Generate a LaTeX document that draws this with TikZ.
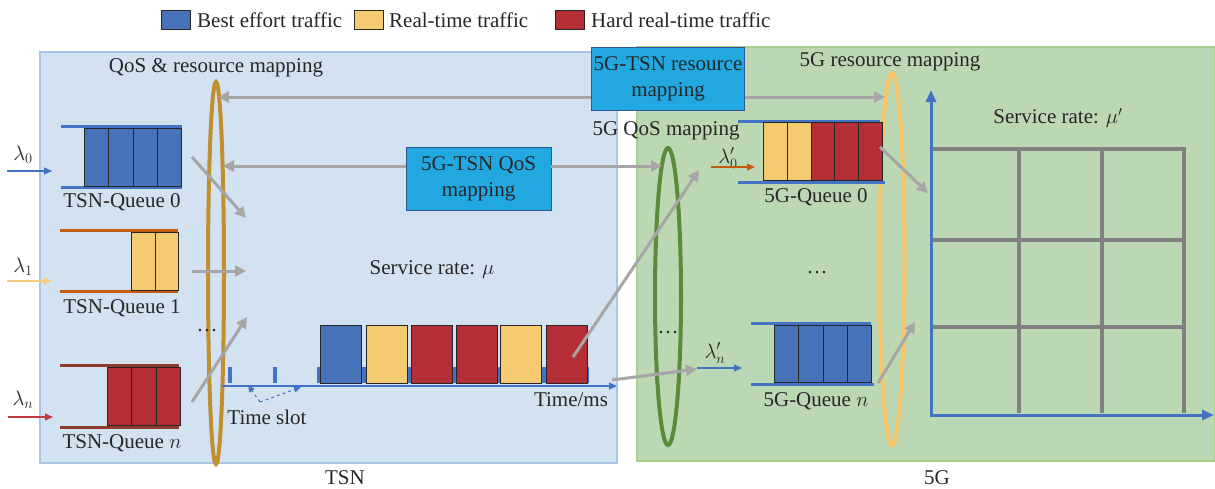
\documentclass[tikz,border=0pt]{standalone}
\usepackage{fontspec}
\setmainfont{Liberation Serif}
\usetikzlibrary{arrows.meta,shapes.geometric}

\definecolor{tsnbg}{HTML}{D3E2F1}
\definecolor{tsnedge}{HTML}{A9C4E4}
\definecolor{fgbg}{HTML}{BBD7B3}
\definecolor{fgedge}{HTML}{A9D18E}
\definecolor{mapbox}{HTML}{22A8E0}
\definecolor{mapedge}{HTML}{2E5597}
\definecolor{beblue}{HTML}{4673B8}
\definecolor{rtyellow}{HTML}{F5CB72}
\definecolor{hrtred}{HTML}{B32E35}
\definecolor{arrowgray}{HTML}{A6A6A6}
\definecolor{gridgray}{HTML}{808080}
\definecolor{gold}{HTML}{C0902F}
\definecolor{qosgreen}{HTML}{5A8A3A}
\definecolor{resyellow}{HTML}{F7C66A}
\definecolor{qorange}{HTML}{C55A11}
\definecolor{qbrown}{HTML}{8E3B2A}
\definecolor{axisblue}{HTML}{4472C4}
\definecolor{lamred}{HTML}{C0393F}
\definecolor{lamyellow}{HTML}{F8CB7F}
\definecolor{ink}{HTML}{262626}

\begin{document}
\begin{tikzpicture}[x=1pt,y=-1pt,
  font=\fontsize{21}{26}\selectfont, text=ink,
  blk/.style={draw=black!85, line width=1pt, inner sep=0pt, anchor=north west},
  be/.style={blk, fill=beblue},
  rt/.style={blk, fill=rtyellow},
  hrt/.style={blk, fill=hrtred},
  mapnode/.style={draw=mapedge, line width=0.8pt, fill=mapbox, align=center,
    minimum height=63pt, inner sep=2pt},
  gar/.style={draw=arrowgray, line width=3pt, -{Triangle[length=11pt,width=11pt]}},
  thinarr/.style={line width=1.2pt, -{Triangle[length=8pt,width=7pt]}},
  qline/.style={line width=3pt},
  loop/.style={ellipse, draw, line width=4pt, inner sep=0pt},
  gridline/.style={draw=gridgray, line width=4pt},
  axis/.style={draw=axisblue, line width=3pt, -{Triangle[length=12pt,width=10pt]}},
  lbl/.style={inner sep=0pt}
]
\useasboundingbox (0,0) rectangle (1215,488);

% legend
\node[be, minimum width=29pt, minimum height=19pt] (legbe) at (161,10) {};
\node[lbl, anchor=west] (legbet) at (197,20) {Best effort traffic};
\node[rt, minimum width=29pt, minimum height=19pt] (legrt) at (354,10) {};
\node[lbl, anchor=west] (legrtt) at (389,20) {Real-time traffic};
\node[hrt, minimum width=29pt, minimum height=19pt] (leghrt) at (555,10) {};
\node[lbl, anchor=west] (leghrtt) at (591,20) {Hard real-time traffic};

% the two domains
\fill[tsnbg, draw=tsnedge, line width=1.5pt] (40,52) rectangle (617,463);
\fill[fgbg, draw=fgedge, line width=1.5pt] (637,47) rectangle (1215,461);
\node[lbl] (tsnlabel) at (345,478) {TSN};
\node[lbl] (fglabel) at (937,478) {5G};

% mapping boxes
\node[mapnode, minimum width=142pt] (resbox) at (668,78.5) {5G-TSN resource\\mapping};
\node[mapnode, minimum width=145pt] (qosbox) at (478.5,178.5) {5G-TSN QoS\\mapping};

% mapping loops
\node[loop, draw=gold, minimum width=16pt, minimum height=382pt] (tsnmap) at (216,273) {};
\node[loop, draw=qosgreen, minimum width=26pt, minimum height=297pt] (qosmap) at (668,296.5) {};
\node[loop, draw=resyellow, minimum width=25pt, minimum height=372pt] (resmap) at (892,259) {};

\node[lbl] (tsnmaplbl) at (216,68) {QoS \& resource mapping};
\node[lbl] (qosmaplbl) at (666,131) {5G QoS mapping};
\node[lbl] (resmaplbl) at (890,62) {5G resource mapping};

% arrow ends on the loops
\coordinate (rl) at (218,97);
\coordinate (rr) at (885,97);
\coordinate (ql) at (223,166);
\coordinate (qr) at (662,166);
\draw[gar] (resbox.west |- rl) -- (rl);
\draw[gar] (resbox.east |- rr) -- (rr);
\draw[gar] (qosbox.west |- ql) -- (ql);
\draw[gar] (qosbox.east |- qr) -- (qr);

% ---- TSN queues ----
% queue 0
\draw[qline, axisblue] (61,126) -- (182,126) (61,187) -- (182,187);
\foreach \i in {0,...,3}
  \node[be, minimum width=24.25pt, minimum height=58pt] (q0b\i) at (84+24.25*\i,128) {};
\node[lbl] (q0lbl) at (122,202) {TSN-Queue 0};
\node[lbl] (lam0) at (23,155) {$\lambda_0$};
\coordinate (lam0s) at (7,171);
\coordinate (lam0e) at (52,171);
\draw[thinarr, axisblue] (lam0s) -- (lam0e);

% queue 1
\draw[qline, qorange] (60,230) -- (178,230) (60,291) -- (178,291);
\foreach \i in {0,1}
  \node[rt, minimum width=23.5pt, minimum height=58pt] (q1b\i) at (131+23.5*\i,232) {};
\node[lbl] (q1lbl) at (122,308) {TSN-Queue 1};
\node[lbl] (lam1) at (23,267) {$\lambda_1$};
\coordinate (lam1s) at (7,281);
\coordinate (lam1e) at (52,281);
\draw[thinarr, lamyellow] (lam1s) -- (lam1e);

% queue n
\draw[qline, qbrown] (60,365) -- (179,365) (60,427) -- (179,427);
\foreach \i in {0,1,2}
  \node[hrt, minimum width=24.3pt, minimum height=58pt] (qnb\i) at (107+24.3*\i,367) {};
\node[lbl] (qnlbl) at (122,443) {TSN-Queue $n$};
\node[lbl] (lamn) at (23,400) {$\lambda_n$};
\coordinate (lamns) at (8,417);
\coordinate (lamne) at (53,417);
\draw[thinarr, lamred] (lamns) -- (lamne);

\node[lbl, anchor=base] (tsndots) at (207,331) {\dots};

% queues into the TSN scheduler
\coordinate (s0a) at (192,157); \coordinate (s0b) at (246,218);
\coordinate (s1a) at (192,271); \coordinate (s1b) at (246,271);
\coordinate (sna) at (192,402); \coordinate (snb) at (247,317);
\draw[gar] (s0a) -- (s0b);
\draw[gar] (s1a) -- (s1b);
\draw[gar] (sna) -- (snb);

\node[lbl] (murate) at (432,270) {Service rate: $\mu$};

% ---- time line ----
\fill[axisblue] (317,367) rectangle (589,383);
\fill[axisblue] (228,367) rectangle (232,383);
\fill[axisblue] (273,367) rectangle (277,383);
\coordinate (t0) at (222,386);
\coordinate (t1) at (617,386);
\draw[thinarr, axisblue] (t0) -- (t1);
\node[be,  minimum width=41pt, minimum height=58pt] (slot1) at (320,325) {};
\node[rt,  minimum width=41pt, minimum height=58pt] (slot2) at (366,325) {};
\node[hrt, minimum width=41pt, minimum height=58pt] (slot3) at (411,325) {};
\node[hrt, minimum width=41pt, minimum height=58pt] (slot4) at (456,325) {};
\node[rt,  minimum width=41pt, minimum height=58pt] (slot5) at (500,325) {};
\node[hrt, minimum width=41pt, minimum height=58pt] (slot6) at (546,325) {};

\node[lbl] (slotlbl) at (267,417) {Time slot};
\coordinate (sv) at (260,402);
\coordinate (sl) at (248,385);
\coordinate (sr) at (301,387);
\draw[axisblue, dashed, line width=1pt, -{Triangle[length=7pt,width=6pt]}] (sv) -- (sl);
\draw[axisblue, dashed, line width=1pt, -{Triangle[length=7pt,width=6pt]}] (sv) -- (sr);
\node[lbl] (timelbl) at (571,400) {Time/ms};

% TSN output into the 5G QoS mapping
\coordinate (o1a) at (573,357); \coordinate (o1b) at (699,170);
\coordinate (o2a) at (612,380); \coordinate (o2b) at (697,369);
\draw[gar] (o1a) -- (o1b);
\draw[gar] (o2a) -- (o2b);

\node[lbl, anchor=base] (qosdots) at (668,333) {\dots};

% ---- 5G queues ----
\node[lbl] (lamp0) at (728,158) {$\lambda'_0$};
\coordinate (lp0s) at (711,167); \coordinate (lp0e) at (755,167);
\draw[thinarr, qorange] (lp0s) -- (lp0e);
\draw[qline, axisblue] (738,121) -- (880,121) (738,182) -- (885,182);
\node[rt,  minimum width=23.8pt, minimum height=58pt] (g0b0) at (763,122) {};
\node[rt,  minimum width=23.8pt, minimum height=58pt] (g0b1) at (786.8,122) {};
\node[hrt, minimum width=23.8pt, minimum height=58pt] (g0b2) at (810.6,122) {};
\node[hrt, minimum width=23.8pt, minimum height=58pt] (g0b3) at (834.4,122) {};
\node[hrt, minimum width=23.8pt, minimum height=58pt] (g0b4) at (858.2,122) {};
\node[lbl] (g0lbl) at (816,197) {5G-Queue 0};

\node[lbl, anchor=base] (fgdots) at (817,273) {\dots};

\node[lbl] (lampn) at (715,353) {$\lambda'_n$};
\coordinate (lpns) at (697,368); \coordinate (lpne) at (742,368);
\draw[thinarr, axisblue] (lpns) -- (lpne);
\draw[qline, axisblue] (751,323) -- (871,323) (751,384) -- (874,384);
\foreach \i in {0,...,3}
  \node[be, minimum width=24.25pt, minimum height=57pt] (gnb\i) at (774+24.25*\i,325) {};
\node[lbl] (gnlbl) at (816,401) {5G-Queue $n$};

% queues into the resource grid
\coordinate (r0a) at (880,147); \coordinate (r0b) at (928,193);
\coordinate (rna) at (878,383); \coordinate (rnb) at (915,322);
\draw[gar] (r0a) -- (r0b);
\draw[gar] (rna) -- (rnb);

% ---- 5G resource grid ----
\draw[gridline] (931,149) -- (1186,149);
\draw[gridline] (931,240) -- (1186,240);
\draw[gridline] (931,327) -- (1186,327);
\draw[gridline] (1019,149) -- (1019,413);
\draw[gridline] (1102,149) -- (1102,413);
\draw[gridline] (1184,149) -- (1184,413);
\coordinate (origin) at (931,415);
\coordinate (yend) at (931,90);
\coordinate (xend) at (1214,415);
\draw[axis] ([yshift=1.5pt]origin) -- (yend);
\draw[axis] ([xshift=-1.5pt]origin) -- (xend);
\node[lbl] (murate5g) at (1058,118) {Service rate: $\mu'$};
\end{tikzpicture}
\end{document}
